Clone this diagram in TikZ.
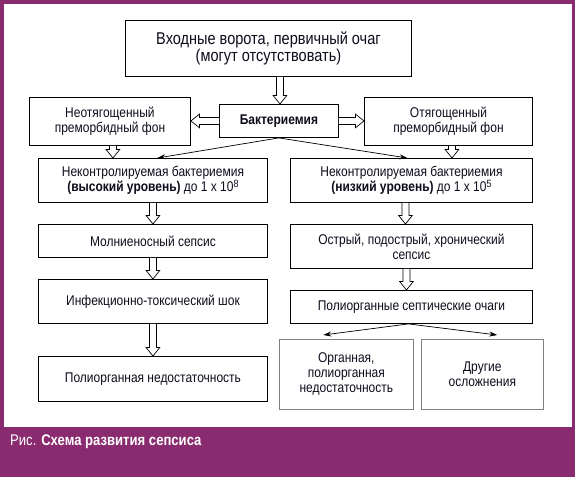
\documentclass[tikz,border=0pt]{standalone}
\usepackage{fontspec}
\setmainfont{Liberation Sans}[FakeStretch=0.85]
\usetikzlibrary{calc,arrows.meta}
\definecolor{framecol}{RGB}{139,43,111}
\definecolor{inkcol}{RGB}{12,12,28}
\newcommand{\supnum}[1]{\raisebox{4.5pt}{\fontsize{10.5}{10}\selectfont #1}}
\begin{document}
\begin{tikzpicture}[x=1pt,y=-1pt,
  box/.style={draw=black, line width=0.9pt, fill=white, align=center, inner sep=0pt,
    anchor=north west, text=inkcol, font=\fontsize{14.1}{15}\selectfont},
  lightbox/.style={box, draw=black!50, line width=0.6pt},
  hollowarrow/.style={draw=black, line width=0.7pt, fill=white, line join=miter,
    to path={
      ($(\tikztostart)!3.5pt!90:(\tikztotarget)$)
      -- ($(\tikztotarget)!8.5pt!(\tikztostart)!3.5pt!-90:(\tikztostart)$)
      -- ($(\tikztotarget)!8.5pt!(\tikztostart)!6.8pt!-90:(\tikztostart)$)
      -- (\tikztotarget)
      -- ($(\tikztotarget)!8.5pt!(\tikztostart)!6.8pt!90:(\tikztostart)$)
      -- ($(\tikztotarget)!8.5pt!(\tikztostart)!3.5pt!90:(\tikztostart)$)
      -- ($(\tikztostart)!3.5pt!-90:(\tikztotarget)$)
    }},
  thinarrow/.style={draw=black, line width=0.7pt, -{Stealth[length=8pt,width=5pt]}},
]
% background and frame
\fill[framecol] (0,0) rectangle (575,477);
\fill[white] (3.5,3.5) rectangle (571.5,427);
\node[anchor=west, text=white, inner sep=0pt, font=\fontsize{15.4}{16}\selectfont] (cap) at (10,442)
  {Рис. \textbf{Схема развития сепсиса}};

% boxes
\node[box, minimum width=286pt, minimum height=56pt, font=\fontsize{17.1}{15.5}\selectfont] (top) at (125,20)
  {Входные ворота, первичный очаг\\(могут отсутствовать)};
\node[box, minimum width=119pt, minimum height=33pt] (bact) at (219,104) {\textbf{Бактериемия}};
\node[box, minimum width=161pt, minimum height=48pt] (neot) at (29,97) {Неотягощенный\\преморбидный фон};
\node[box, minimum width=168pt, minimum height=48pt] (ot) at (364,97) {Отягощенный\\преморбидный фон};
\node[box, minimum width=229pt, minimum height=44pt] (nkL) at (38,158)
  {Неконтролируемая бактериемия\\\textbf{(высокий уровень)} до 1 x 10\supnum{8}};
\node[box, minimum width=242pt, minimum height=44pt] (nkR) at (290,158)
  {Неконтролируемая бактериемия\\\textbf{(низкий уровень)} до 1 x 10\supnum{5}};
\node[box, minimum width=229pt, minimum height=33pt] (mol) at (38,224) {Молниеносный сепсис};
\node[box, minimum width=229pt, minimum height=44pt] (inf) at (38,279) {Инфекционно-токсический шок};
\node[box, minimum width=229pt, minimum height=45pt] (polL) at (38,356) {Полиорганная недостаточность};
\node[box, minimum width=242pt, minimum height=44pt] (ostr) at (290,224) {Острый, подострый, хронический\\сепсис};
\node[box, minimum width=242pt, minimum height=33pt] (polo) at (290,290) {Полиорганные септические очаги};
\node[lightbox, minimum width=134pt, minimum height=70pt] (org) at (279,339) {Органная,\\полиорганная\\недостаточность};
\node[lightbox, minimum width=122pt, minimum height=70pt] (dr) at (421,339) {Другие\\осложнения};

% hollow arrows
\draw[hollowarrow] ([xshift=1pt]bact.north |- top.south) to ([xshift=1pt]bact.north);
\draw[hollowarrow] (bact.west) to (bact.west -| neot.east);
\draw[hollowarrow] (bact.east) to (bact.east -| ot.west);
\draw[hollowarrow] ([xshift=3pt]neot.south) to ([xshift=3pt]neot.south |- nkL.north);
\draw[hollowarrow] ([xshift=3.5pt]ot.south) to ([xshift=3.5pt]ot.south |- nkR.north);
\draw[hollowarrow] (nkL.south) to (mol.north);
\draw[hollowarrow] (mol.south) to (inf.north);
\draw[hollowarrow] (inf.south) to (polL.north);
\draw[hollowarrow] ([xshift=-6pt]nkR.south) to ([xshift=-6pt]ostr.north);
\draw[hollowarrow] ([xshift=-5pt]ostr.south) to ([xshift=-5pt]polo.north);

% thin arrows
\draw[thinarrow] (bact.south) -- ([xshift=4.5pt]nkL.north);
\draw[thinarrow] (bact.south) -- ([xshift=-4pt]nkR.north);
\draw[thinarrow] ([xshift=-3pt]polo.south) -- ([xshift=-23pt,yshift=4pt]org.north);
\draw[thinarrow] ([xshift=-3pt]polo.south) -- ([xshift=15pt,yshift=4pt]dr.north);
\end{tikzpicture}
\end{document}
